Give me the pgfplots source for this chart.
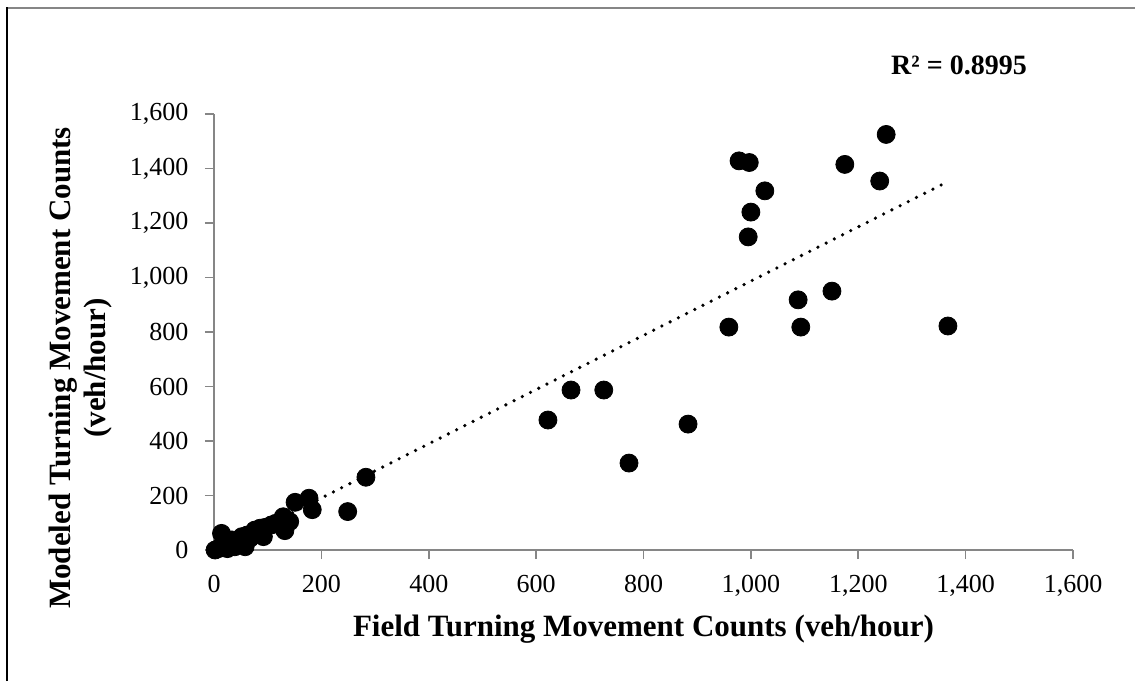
\documentclass[border=0pt]{standalone}
\usepackage{fontspec}
\setmainfont{Liberation Serif}
\usepackage{pgfplots}
\pgfplotsset{compat=1.18}
\definecolor{axgray}{RGB}{134,134,134}
\begin{document}
\begin{tikzpicture}
\useasboundingbox (0,0) rectangle (567.5pt,340.5pt);
\fill[white] (0,0) rectangle (567.5pt,340.5pt);
\draw[axgray, line width=0.9pt] (3.6pt,336.5pt) -- (567.5pt,336.5pt);
\draw[black, line width=1.2pt] (3.6pt,0pt) -- (3.6pt,337pt);
\begin{axis}[
  at={(107pt,65.5pt)}, anchor=south west,
  scale only axis, width=429.5pt, height=218pt,
  xmin=0, xmax=1600, ymin=0, ymax=1600,
  xtick={0,200,...,1600}, ytick={0,200,...,1600},
  axis lines*=left,
  axis line style={axgray, line width=0.8pt},
  tick style={axgray, line width=0.8pt},
  tick align=outside, major tick length=4.5pt,
  /pgf/number format/1000 sep={,},
  /pgf/number format/assume math mode=true,
  tick label style={font=\fontsize{13}{15}\selectfont, black},
  xticklabel style={yshift=-4.5pt},
  yticklabel style={xshift=-4.8pt},
  clip=false,
]
\addplot[black, line width=1.8pt, line cap=round, dash pattern=on 0pt off 4.6pt]
  coordinates {(8.3,0) (1367,1352)};
\addplot[only marks, mark=*, mark size=4.5pt, black] table {
x y
2 0
8 5
25 5
20 12
39 12
28 29
45 20
14 61
33 37
52 49
58 12
62 55
67 43
76 73
86 80
92 49
95 83
107 92
115 98
129 122
132 71
141 104
151 175
177 190
183 148
249 141
283 267
622 477
665 587
726 587
773 319
883 462
959 818
978 1428
997 1422
995 1149
1000 1240
1026 1318
1088 918
1093 818
1151 950
1175 1415
1240 1354
1252 1525
1367 822
};
\end{axis}
\node[font=\fontsize{15.5}{17}\selectfont\bfseries] at (321.75pt,26pt) {Field Turning Movement Counts (veh/hour)};
\node[font=\fontsize{15.5}{17}\selectfont\bfseries, rotate=90, align=center] at (40.5pt,156.5pt) {Modeled Turning Movement Counts\\[0.5pt](veh/hour)};
\node[font=\fontsize{14}{16}\selectfont\bfseries] at (479.5pt,308pt) {R² = 0.8995};
\end{tikzpicture}
\end{document}
